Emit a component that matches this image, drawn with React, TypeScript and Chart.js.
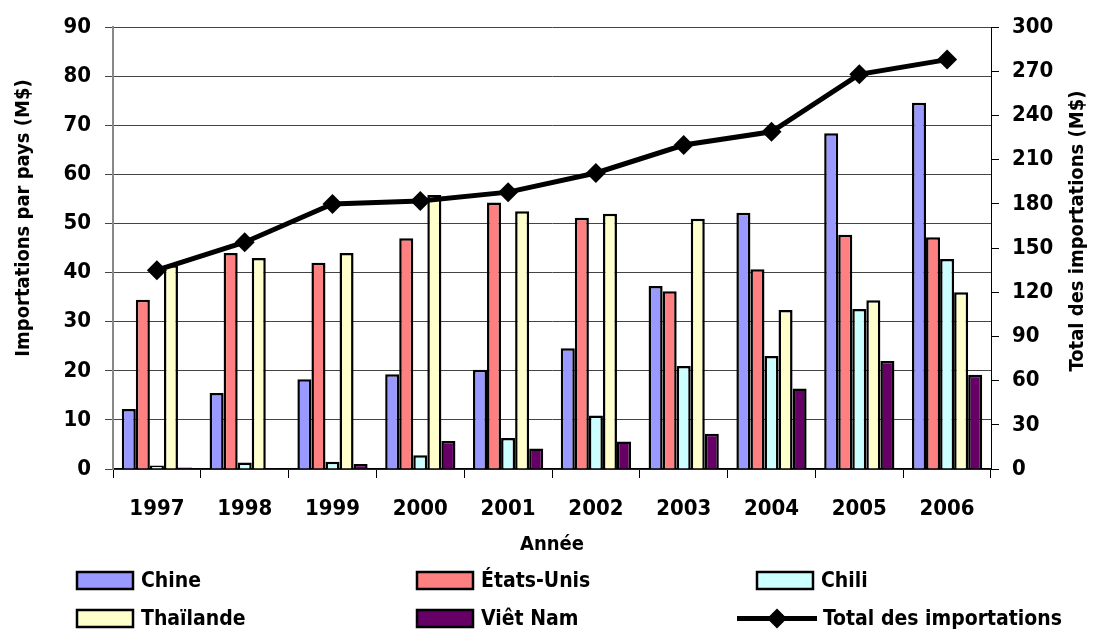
import React, { useEffect, useRef } from "react";
import { Chart, registerables } from "chart.js";

Chart.register(...registerables);

const FONT = "'DejaVu Sans Condensed', 'DejaVu Sans', sans-serif";

const years = ["1997", "1998", "1999", "2000", "2001", "2002", "2003", "2004", "2005", "2006"];
const chine = [12.2, 15.5, 18.3, 19.3, 20.2, 24.6, 37.3, 52.2, 68.4, 74.6];
const etatsUnis = [34.5, 44.0, 42.0, 47.0, 54.3, 51.2, 36.2, 40.7, 47.7, 47.2];
const chili = [0.7, 1.3, 1.5, 2.8, 6.3, 10.9, 21.0, 23.0, 32.6, 42.8];
const thailande = [41.5, 43.0, 44.0, 55.8, 52.5, 52.0, 51.0, 32.4, 34.4, 36.0];
const vietNam = [0.3, 0.2, 1.0, 5.7, 4.2, 5.6, 7.2, 16.4, 22.0, 19.2];
const total = [135, 154, 180, 182, 188, 201, 220, 229, 268, 278];

const leftTicks = { min: 0, max: 90, step: 10 };
const rightTicks = { min: 0, max: 300, step: 30 };

const X_TITLE = "Année";
const Y_TITLE = "Importations par pays (M$)";
const Y1_TITLE = "Total des importations (M$)";

const barDefs = [
  { label: "Chine", data: chine, color: "#9999FF" },
  { label: "États-Unis", data: etatsUnis, color: "#FF8080" },
  { label: "Chili", data: chili, color: "#CCFFFF" },
  { label: "Thaïlande", data: thailande, color: "#FFFFCC" },
  { label: "Viêt Nam", data: vietNam, color: "#660066" },
];
const TOTAL_LABEL = "Total des importations";

const decorPlugin = {
  id: "decor",
  afterDraw(chart: any) {
    const ctx = chart.ctx;
    const ca = chart.chartArea;
    ctx.save();
    ctx.fillStyle = "#000";
    ctx.textAlign = "center";
    ctx.textBaseline = "middle";
    ctx.font = `bold 20px ${FONT}`;
    ctx.fillText(X_TITLE, (ca.left + ca.right) / 2, 545);
    ctx.save();
    ctx.translate(24, 218);
    ctx.rotate(-Math.PI / 2);
    ctx.fillText(Y_TITLE, 0, 0);
    ctx.restore();
    ctx.save();
    ctx.translate(1078, 231);
    ctx.rotate(-Math.PI / 2);
    ctx.fillText(Y1_TITLE, 0, 0);
    ctx.restore();

    // legend
    const cols = [77, 417, 757];
    const rows = [580.5, 618.5];
    ctx.font = `bold 21px ${FONT}`;
    ctx.textAlign = "left";
    const items = chart.data.datasets;
    const ordered = [...items.filter((d: any) => d.type !== "line"), ...items.filter((d: any) => d.type === "line")];
    ordered.forEach((d: any, i: number) => {
      const cx = cols[i % 3];
      const cy = rows[Math.floor(i / 3)];
      if (d.type === "line") {
        ctx.strokeStyle = "#000";
        ctx.fillStyle = "#000";
        ctx.lineWidth = 5;
        ctx.beginPath();
        ctx.moveTo(cx - 20, cy);
        ctx.lineTo(cx + 60, cy);
        ctx.stroke();
        ctx.beginPath();
        const r = 10;
        const mx = cx + 20;
        ctx.moveTo(mx, cy - r);
        ctx.lineTo(mx + r, cy);
        ctx.lineTo(mx, cy + r);
        ctx.lineTo(mx - r, cy);
        ctx.closePath();
        ctx.fill();
        ctx.fillText(d.label, cx + 66, cy + 1);
      } else {
        ctx.fillStyle = d.backgroundColor;
        ctx.fillRect(cx, cy - 8.5, 56, 17);
        ctx.strokeStyle = "#000";
        ctx.lineWidth = 2.5;
        ctx.strokeRect(cx, cy - 8.5, 56, 17);
        ctx.fillStyle = "#000";
        ctx.fillText(d.label, cx + 64, cy + 1);
      }
    });
    ctx.restore();
  },
};

export default function App() {
  const ref = useRef<HTMLCanvasElement>(null);
  useEffect(() => {
    if (!ref.current) return;
    const datasets: any[] = barDefs.map((b) => ({
      type: "bar",
      label: b.label,
      data: b.data,
      backgroundColor: b.color,
      borderColor: "#000",
      borderWidth: 2.5,
      yAxisID: "y",
      order: 1,
      barPercentage: 1,
      categoryPercentage: 0.8,
    }));
    datasets.push({
      type: "line",
      label: TOTAL_LABEL,
      data: total,
      borderColor: "#000",
      backgroundColor: "#000",
      borderWidth: 5,
      pointStyle: "rectRot",
      pointRadius: 10,
      pointBackgroundColor: "#000",
      pointBorderColor: "#000",
      pointBorderWidth: 0,
      yAxisID: "y1",
      order: 0,
      tension: 0,
    });
    const tickFont = { family: FONT, size: 22, weight: "bold" as const };
    const chart = new Chart(ref.current, {
      data: { labels: years, datasets },
      options: {
        responsive: false,
        animation: false,
        layout: { padding: { top: 14, left: 0, right: 0, bottom: 0 } },
        plugins: { legend: { display: false }, tooltip: { enabled: false } },
        scales: {
          x: {
            offset: true,
            grid: { drawOnChartArea: false, drawTicks: true, tickLength: 9, offset: true, color: "#000" },
            border: { color: "#000", width: 1.5 },
            ticks: { color: "#000", font: tickFont, padding: 18, maxRotation: 0 },
            afterFit: (s: any) => { s.height = 634 - 469; },
          },
          y: {
            position: "left",
            min: leftTicks.min,
            max: leftTicks.max,
            ticks: { stepSize: leftTicks.step, color: "#000", font: tickFont, padding: 14 },
            grid: { color: "#444", lineWidth: 1, tickLength: 8, drawTicks: true },
            border: { color: "#888", width: 2 },
            afterFit: (s: any) => { s.width = 113; },
          },
          y1: {
            position: "right",
            min: rightTicks.min,
            max: rightTicks.max,
            ticks: { stepSize: rightTicks.step, color: "#000", font: tickFont, padding: 13 },
            grid: { drawOnChartArea: false, tickLength: 8, color: "#000" },
            border: { color: "#000", width: 1 },
            afterFit: (s: any) => { s.width = 1098 - 991; },
          },
        },
      },
      plugins: [decorPlugin],
    } as any);
    return () => chart.destroy();
  }, []);
  return (
    <div style={{ position: "absolute", left: 0, top: 0, width: 1098, height: 634, background: "#fff" }}>
      <canvas ref={ref} width={1098} height={634} />
    </div>
  );
}
